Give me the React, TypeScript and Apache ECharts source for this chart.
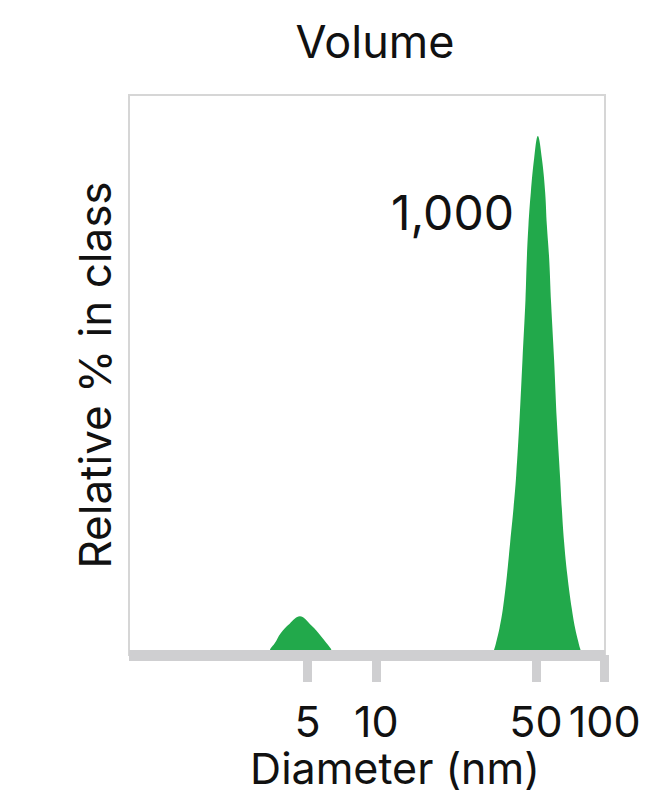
import React, { useEffect, useRef } from "react";
import * as echarts from "echarts";

// x values are log10(diameter in nm), y values are relative % in class
const smallPeakLogD = [0.5205, 0.538, 0.5555, 0.5817, 0.621, 0.666, 0.7084, 0.7477, 0.7827, 0.8001, 0.8176];
const smallPeakPct = [0, 1.2, 2.1, 3.9, 5.6, 6.9, 5.6, 3.9, 2.1, 1.2, 0];

const largePeakLogD = [
  1.5035, 1.5179, 1.5253, 1.5398, 1.5546, 1.5721, 1.5865, 1.6009, 1.6127, 1.6271, 1.6402, 1.6533,
  1.6594, 1.6664, 1.6769, 1.6913, 1.7075, 1.725, 1.7394, 1.7469, 1.7569, 1.7656, 1.7787, 1.7905,
  1.8049, 1.8124, 1.8224, 1.8368, 1.856, 1.8705, 1.8849, 1.8922, 1.906,
];
const largePeakPct = [
  0, 1.2, 2.3, 4.8, 8.3, 14.2, 20.2, 26.2, 32.1, 41.9, 52.7, 63.4,
  70.9, 76.8, 82.7, 88.7, 92.7, 88.7, 82.7, 76.8, 70.9, 62.8, 52.7, 41.9,
  31.7, 26.2, 20.2, 14.2, 8.3, 4.8, 2.3, 1.2, 0,
];

const tickDiameters = [5, 10, 50, 100];
const axisMinLog = -0.0824;
const axisMaxLog = 2.0015;

const peakLabelText = "1,000";
const peakLabelAt = [1.603, 79];

const FONT = "Inter, 'Noto Sans', sans-serif";
const GREEN = "#22a94b";
const AXIS_GRAY = "#cfcfd1";

export default function App() {
  const ref = useRef<HTMLDivElement>(null);

  useEffect(() => {
    if (!ref.current) return;
    document.body.style.margin = "0";
    const chart = echarts.init(ref.current, undefined, { renderer: "svg" });

    const data: number[][] = [];
    data.push([axisMinLog, 0]);
    smallPeakLogD.forEach((x, i) => data.push([x, smallPeakPct[i]]));
    largePeakLogD.forEach((x, i) => data.push([x, largePeakPct[i]]));
    data.push([axisMaxLog, 0]);

    const tickLogs = tickDiameters.map((d) => Math.log10(d));

    chart.setOption({
      animation: false,
      title: {
        text: "Volume",
        left: 370,
        top: 14,
        textAlign: "center",
        textStyle: { fontFamily: FONT, fontSize: 45, fontWeight: "normal", color: "#111" },
      },
      grid: {
        left: 129,
        right: 46,
        top: 95,
        bottom: 140,
        show: true,
        borderColor: "#d6d6d6",
        borderWidth: 2,
        containLabel: false,
        outerBoundsMode: "none",
      },
      xAxis: {
        type: "value",
        min: axisMinLog,
        max: axisMaxLog,
        z: 10,
        axisLine: { show: true, lineStyle: { color: AXIS_GRAY, width: 11, cap: "butt" } },
        axisTick: {
          show: true,
          customValues: tickLogs,
          length: 27,
          lineStyle: { color: AXIS_GRAY, width: 9, cap: "butt" },
        },
        axisLabel: {
          show: true,
          customValues: tickLogs,
          margin: 44,
          fontFamily: FONT,
          fontSize: 43,
          color: "#111",
          hideOverlap: false,
          formatter: (v: number) => String(Math.round(Math.pow(10, v))),
        },
        splitLine: { show: false },
        name: "Diameter (nm)",
        nameLocation: "middle",
        nameGap: 96,
        nameTextStyle: {
          fontFamily: FONT,
          fontSize: 43,
          lineHeight: 34,
          color: "#111",
          padding: [0, 0, 0, 56],
        },
      },
      yAxis: {
        type: "value",
        min: 0,
        max: 100,
        axisLine: { show: false },
        axisTick: { show: false },
        axisLabel: { show: false },
        splitLine: { show: false },
        name: "Relative % in class",
        nameLocation: "middle",
        nameRotate: 90,
        nameGap: 12,
        nameTextStyle: { fontFamily: FONT, fontSize: 44, color: "#111" },
      },
      series: [
        {
          type: "line",
          data,
          smooth: 0.4,
          symbol: "none",
          z: 2,
          lineStyle: { width: 0, color: GREEN },
          itemStyle: { color: GREEN },
          areaStyle: { color: GREEN, opacity: 1 },
          markPoint: {
            symbol: "circle",
            symbolSize: 0,
            data: [
              {
                coord: peakLabelAt,
                label: {
                  show: true,
                  formatter: peakLabelText,
                  position: "inside",
                  align: "right",
                  verticalAlign: "middle",
                  fontFamily: FONT,
                  fontSize: 48,
                  color: "#111",
                },
              },
            ],
          },
        },
      ],
    });

    return () => chart.dispose();
  }, []);

  return <div ref={ref} style={{ width: 651, height: 795 }} />;
}
